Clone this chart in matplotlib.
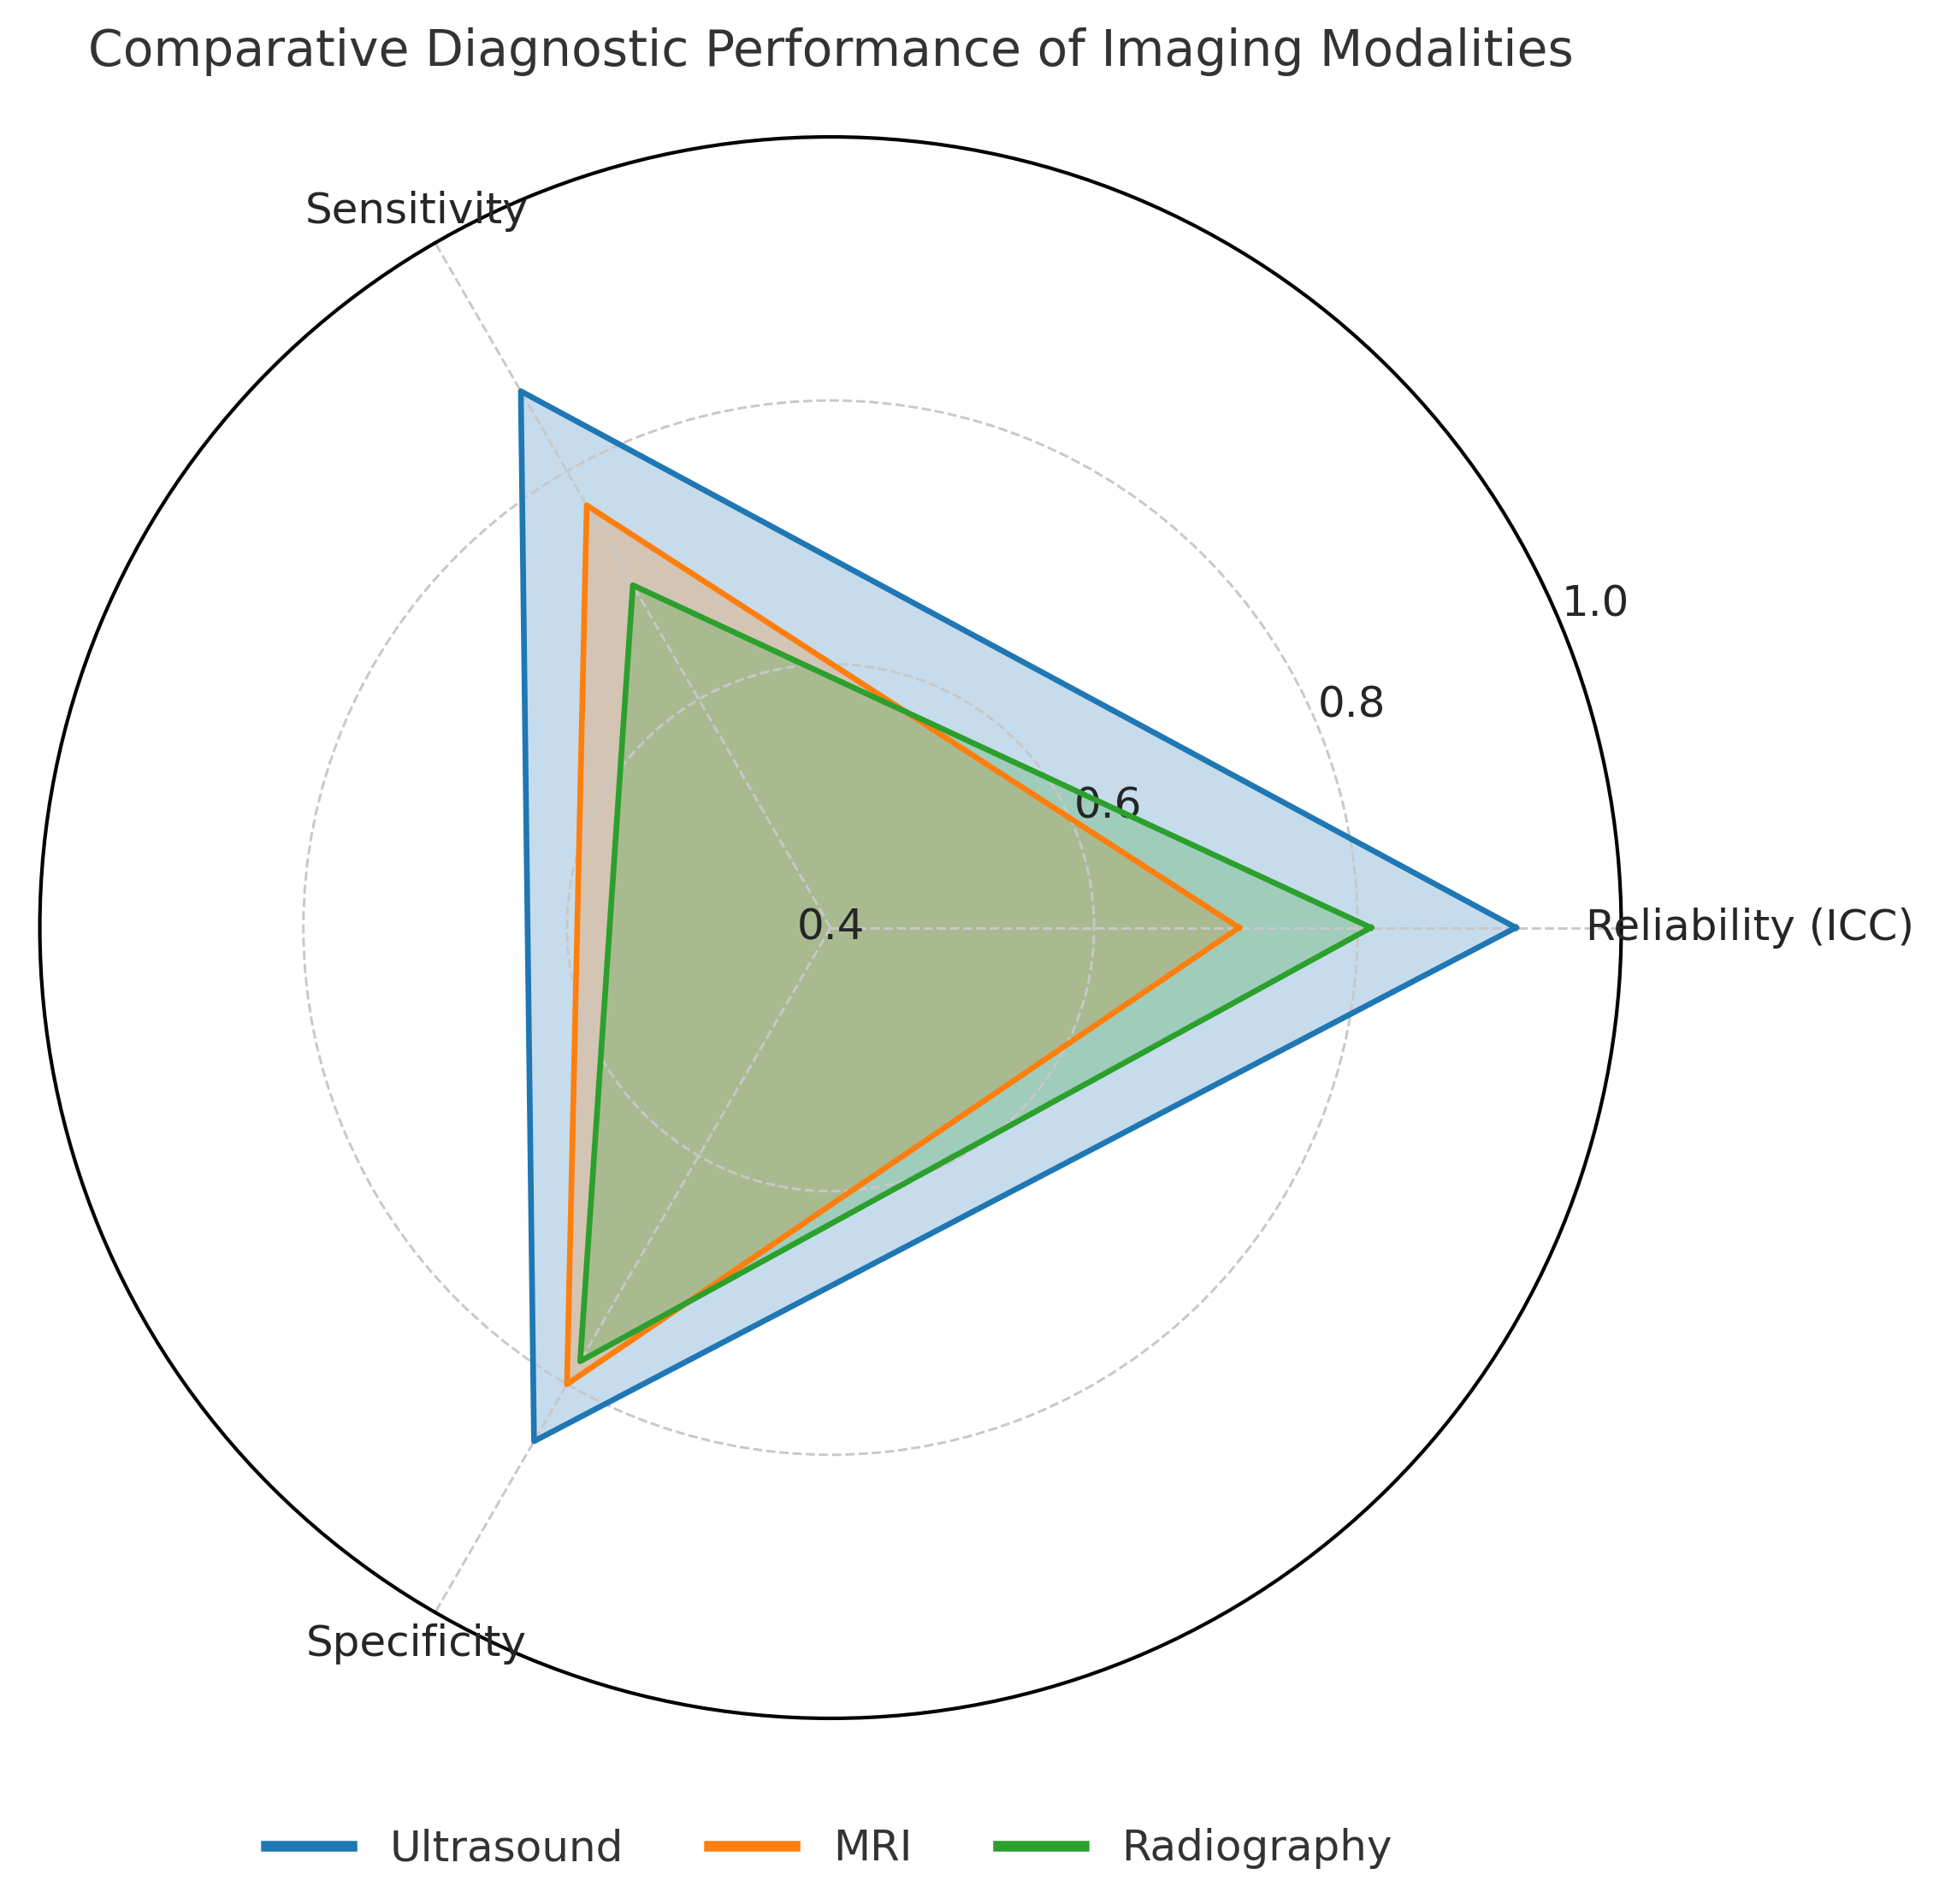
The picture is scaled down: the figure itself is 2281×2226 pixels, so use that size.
import numpy as np
import matplotlib
matplotlib.use("Agg")
import matplotlib.pyplot as plt

# data
categories = ["Reliability (ICC)", "Sensitivity", "Specificity"]
ultrasound = [0.92, 0.87, 0.85]
mri = [0.71, 0.77, 0.80]
radiography = [0.81, 0.70, 0.78]
series_names = ["Ultrasound", "MRI", "Radiography"]
r_ticks = [0.4, 0.6, 0.8, 1.0]

colors = ["#1f77b4", "#ff7f0e", "#2ca02c"]
label_r = [1.098, 1.028, 1.028]  # where the category names sit

angles = np.linspace(0, 2 * np.pi, len(categories), endpoint=False)
angles_closed = np.concatenate([angles, angles[:1]])

fig = plt.figure(figsize=(2281 / 300, 2226 / 300), dpi=300)
ax = fig.add_axes([0.0204, 0.0975, 0.8106, 0.8306], projection="polar")

for name, vals, c in zip(series_names, [ultrasound, mri, radiography], colors):
    v = np.concatenate([vals, vals[:1]])
    ax.plot(angles_closed, v, color=c, linewidth=1.6, label=name)
    ax.fill(angles_closed, v, color=c, alpha=0.25)

ax.set_ylim(0.4, 1.0)
ax.set_yticks(r_ticks)
# innermost label sits on the centre
ax.set_yticklabels([""] + [f"{t:.1f}" for t in r_ticks[1:]], fontsize=12, color="#262626")
ax.text(0, r_ticks[0], f"{r_ticks[0]:.1f}", ha="center", va="center", fontsize=12, color="#262626")

ax.set_xticks(angles)
ax.set_xticklabels([])
for a, lab, rr in zip(angles, categories, label_r):
    ax.text(a, rr, lab, ha="center", va="center", fontsize=12, color="#262626", clip_on=False)

ax.grid(True, linestyle="--", color="#c8c8c8", linewidth=0.7)
ax.spines["polar"].set_linewidth(1.0)
ax.spines["polar"].set_color("black")

fig.text(0.4257, 0.973, "Comparative Diagnostic Performance of Imaging Modalities",
         ha="center", va="center", fontsize=14, color="#333333")

leg = fig.legend(loc="center", bbox_to_anchor=(0.425, 0.029), ncol=3, frameon=False,
                 fontsize=12, handlelength=2.0, columnspacing=2.0, handletextpad=0.9)
for line in leg.get_lines():
    line.set_linewidth(3)
for t in leg.get_texts():
    t.set_color("#333333")

fig.savefig("out.png", dpi=300)
